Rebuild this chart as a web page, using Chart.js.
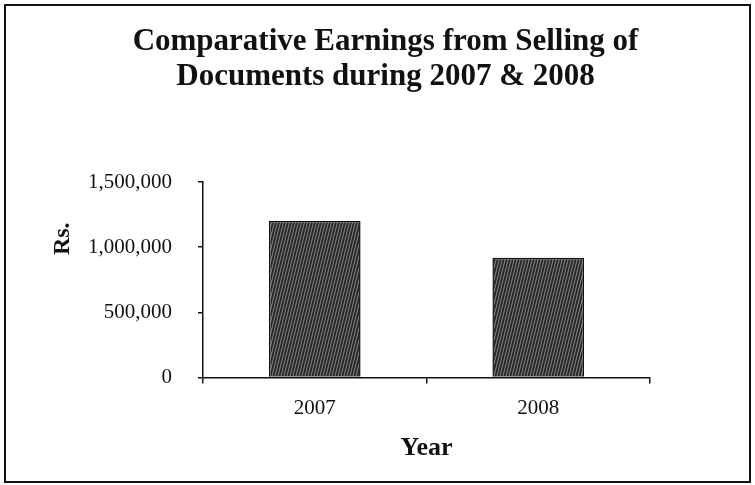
<!DOCTYPE html>
<html>
<head>
<meta charset="utf-8">
<script src="https://cdn.jsdelivr.net/npm/chart.js@4.4.1/dist/chart.umd.min.js"></script>
<style>
    html, body { margin: 0; padding: 0; background: #ffffff; }
    #wrap { width: 755px; height: 485px; }
</style>
</head>
<body>
<div id="wrap"><canvas id="graphe"></canvas></div>
<script>
// Données
var annees = ['2007', '2008'];
var recettes = [1200000, 920000];
var titreLignes = ['Comparative Earnings from Selling of', 'Documents during 2007 & 2008'];
var yMax = 1500000;
var yPas = 500000;

var police = "'Liberation Serif', 'Times New Roman', serif";

// Motif hachuré sombre des barres
function motifHachure() {
    var c = document.createElement('canvas');
    c.width = 3;
    c.height = 12;
    var g = c.getContext('2d');
    g.fillStyle = '#262626';
    g.fillRect(0, 0, 3, 12);
    g.strokeStyle = '#8c8c8c';
    g.lineWidth = 1;
    g.beginPath();
    g.moveTo(0, 12); g.lineTo(3, 0);
    g.moveTo(-3, 12); g.lineTo(0, 0);
    g.moveTo(3, 12); g.lineTo(6, 0);
    g.stroke();
    return g.createPattern(c, 'repeat');
}

// Cadre noir, titre centré sur la page et "Rs." de l'axe Y
var cadre = {
    id: 'cadre',
    afterDraw: function (chart) {
        var ctx = chart.ctx;
        ctx.save();
        ctx.strokeStyle = '#111';
        ctx.lineWidth = 2;
        ctx.strokeRect(5, 5, chart.width - 10, chart.height - 8);

        ctx.fillStyle = '#111';
        ctx.textAlign = 'center';
        ctx.textBaseline = 'middle';
        ctx.font = 'bold 31px ' + police;
        titreLignes.forEach(function (ligne, i) {
            ctx.fillText(ligne, chart.width / 2 + 8, 42 + i * 35);
        });

        var a = chart.chartArea;
        ctx.translate(63, a.top + (a.bottom - a.top) * 0.29);
        ctx.rotate(-Math.PI / 2);
        ctx.font = 'bold 24px ' + police;
        ctx.fillText('Rs.', 0, 0);
        ctx.restore();
    }
};

var ctx = document.getElementById('graphe').getContext('2d');
var graphique = new Chart(ctx, {
    type: 'bar',
    data: {
        labels: annees,
        datasets: [{
            data: recettes,
            backgroundColor: motifHachure(),
            borderColor: '#111',
            borderWidth: 1.5,
            barPercentage: 0.41,
            categoryPercentage: 1
        }]
    },
    options: {
        responsive: true,
        maintainAspectRatio: false,
        animation: false,
        layout: { padding: { top: 182, left: 62, right: 105, bottom: 17 } },
        plugins: {
            legend: { display: false },
            tooltip: { enabled: false },
            title: { display: false }
        },
        scales: {
            x: {
                grid: { display: true, drawOnChartArea: false, drawTicks: true, tickLength: 6, color: '#111', lineWidth: 1.5 },
                border: { display: true, color: '#111', width: 1.5 },
                ticks: { color: '#111', font: { family: police, size: 21 }, padding: 12 },
                title: {
                    display: true,
                    text: 'Year',
                    color: '#111',
                    font: { family: police, size: 26, weight: 'bold' },
                    padding: { top: 0 }
                }
            },
            y: {
                min: 0,
                max: yMax,
                grid: { display: true, drawOnChartArea: false, drawTicks: true, tickLength: 5, color: '#111', lineWidth: 1.5 },
                border: { display: true, color: '#111', width: 1.5 },
                ticks: {
                    stepSize: yPas,
                    color: '#111',
                    font: { family: police, size: 21 },
                    padding: 26,
                    callback: function (v) { return v.toLocaleString('en-US'); }
                }
            }
        }
    },
    plugins: [cadre]
});
</script>
</body>
</html>
